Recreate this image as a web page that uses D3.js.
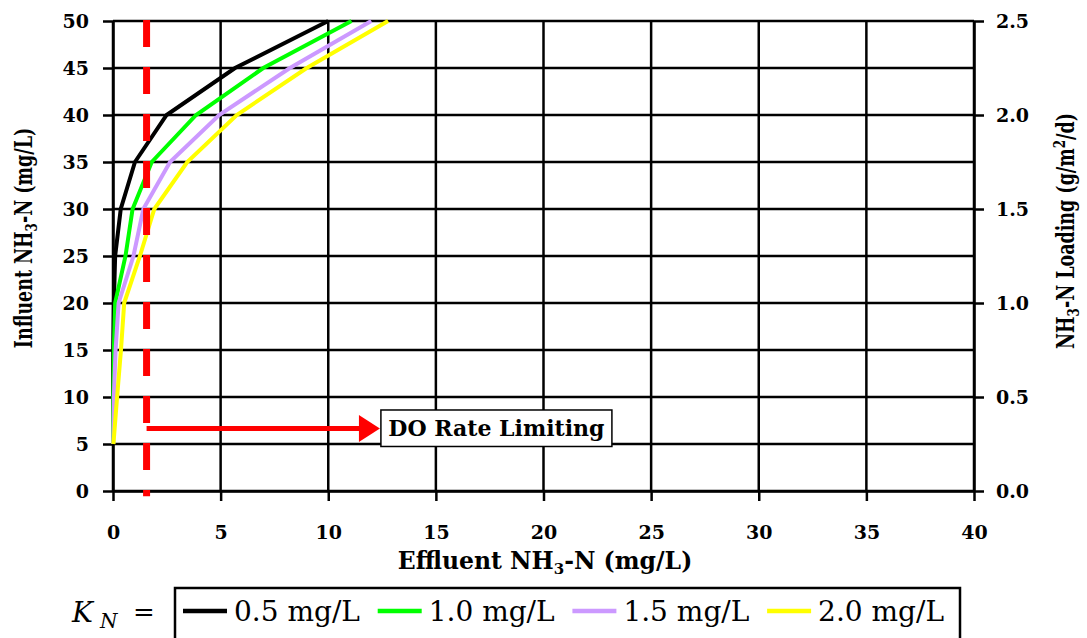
<!DOCTYPE html>
<html><head><meta charset="utf-8">
<script src="https://cdn.jsdelivr.net/npm/d3@7"></script>
<style>body{margin:0;background:#fff}svg{display:block}</style>
</head><body><svg id="c" width="1087" height="638"></svg>
<script>
const influent = [5,10,15,20,25,30,35,40,45,50];
const kn05 = [0.0, 0.0, 0.01, 0.04, 0.10, 0.36, 1.02, 2.49, 5.67, 10.0];
const kn10 = [0.0, 0.01, 0.04, 0.10, 0.58, 0.91, 1.80, 3.86, 6.98, 11.08];
const kn15 = [0.01, 0.04, 0.12, 0.26, 0.95, 1.41, 2.65, 4.93, 8.22, 12.0];
const kn20 = [0.02, 0.19, 0.37, 0.52, 1.25, 1.92, 3.45, 5.75, 9.0, 12.78];
const seriesNames = ["0.5 mg/L","1.0 mg/L","1.5 mg/L","2.0 mg/L"];
const seriesColors = ["#000000","#00ff00","#cc99ff","#ffff00"];
const xTicks = [0,5,10,15,20,25,30,35,40];
const yTicks = [0,5,10,15,20,25,30,35,40,45,50];
const y2Ticks = [0.0,0.5,1.0,1.5,2.0,2.5];
const doLimitX = 1.56, arrowY = 6.65, arrowEndX = 12.4;
const annotationText = "DO Rate Limiting";

const series = [kn05,kn10,kn15,kn20];
const svg = d3.select("#c");
const L=113,R=974,T=21,B=491;
const x = d3.scaleLinear().domain([0,40]).range([L,R]);
const y = d3.scaleLinear().domain([0,50]).range([B,T]);
const y2 = d3.scaleLinear().domain([0,2.5]).range([B,T]);
const bold = "'DejaVu Serif', serif";

// grid
const g = svg.append("g");
g.selectAll("line.h").data(yTicks).join("line")
 .attr("x1",L).attr("x2",R).attr("y1",d=>y(d)).attr("y2",d=>y(d))
 .attr("stroke","#000").attr("stroke-width",2.5);
g.selectAll("line.v").data(xTicks).join("line")
 .attr("y1",T).attr("y2",B).attr("x1",d=>x(d)).attr("x2",d=>x(d))
 .attr("stroke","#000").attr("stroke-width",2.5);

function styleAxis(sel){
  sel.select(".domain").attr("stroke","#000").attr("stroke-width",2.5);
  sel.selectAll(".tick line").attr("stroke","#000").attr("stroke-width",2.5);
  sel.selectAll(".tick text").attr("font-family",bold).attr("font-weight","bold")
    .attr("font-size",19).attr("fill","#000");
}
const ax = svg.append("g").attr("transform",`translate(0,${B})`)
 .call(d3.axisBottom(x).tickValues(xTicks).tickSize(10).tickPadding(25).tickSizeOuter(0));
styleAxis(ax);
const ay = svg.append("g").attr("transform",`translate(${L},0)`)
 .call(d3.axisLeft(y).tickValues(yTicks).tickSize(10).tickPadding(14).tickSizeOuter(0));
styleAxis(ay);
const ay2 = svg.append("g").attr("transform",`translate(${R},0)`)
 .call(d3.axisRight(y2).tickValues(y2Ticks).tickFormat(d3.format(".1f")).tickSize(10).tickPadding(12).tickSizeOuter(0));
styleAxis(ay2);

// curves
const line = d3.line().x(d=>x(d[0])).y(d=>y(d[1]));
series.forEach((s,i)=>{
  svg.append("path").datum(s.map((v,j)=>[v,influent[j]]))
    .attr("d",line).attr("fill","none").attr("stroke",seriesColors[i])
    .attr("stroke-width",4).attr("stroke-linejoin","miter");
});

// red dashed line
svg.append("line").attr("x1",x(doLimitX)).attr("x2",x(doLimitX))
 .attr("y1",y(50)-1).attr("y2",y(-0.55))
 .attr("stroke","#ff0000").attr("stroke-width",7).attr("stroke-dasharray","27,20");

// arrow
const ax0 = x(doLimitX), ax1 = x(arrowEndX), ayp = y(arrowY);
svg.append("line").attr("x1",ax0).attr("x2",ax1-18).attr("y1",ayp).attr("y2",ayp)
 .attr("stroke","#ff0000").attr("stroke-width",5);
svg.append("path").attr("d",`M${ax1},${ayp} L${ax1-21},${ayp-13.5} L${ax1-21},${ayp+13.5} Z`).attr("fill","#ff0000");

// annotation box
svg.append("rect").attr("x",ax1+1).attr("y",ayp-18.5).attr("width",231).attr("height",36.5)
 .attr("fill","#fff").attr("stroke","#000").attr("stroke-width",1.5);
svg.append("text").attr("x",ax1+1+115.5).attr("y",ayp+8).attr("text-anchor","middle")
 .attr("font-family",bold).attr("font-weight","bold").attr("font-size",22).text(annotationText);

// axis titles
const xt = svg.append("text").attr("x",545).attr("y",569).attr("text-anchor","middle")
 .attr("font-family",bold).attr("font-weight","bold").attr("font-size",23.5);
xt.append("tspan").text("Effluent NH");
xt.append("tspan").attr("font-size",15).attr("dy",5).text("3");
xt.append("tspan").attr("dy",-5).text("-N (mg/L)");

const yt = svg.append("text").attr("transform","translate(32,238) scale(1.35,1) rotate(-90)")
 .attr("text-anchor","middle").attr("font-family",bold).attr("font-weight","bold").attr("font-size",17.5);
yt.append("tspan").text("Influent NH");
yt.append("tspan").attr("font-size",12).attr("dy",4).text("3");
yt.append("tspan").attr("dy",-4).text("-N (mg/L)");

const y2t = svg.append("text").attr("transform","translate(1074,231) scale(1.35,1) rotate(-90)")
 .attr("text-anchor","middle").attr("font-family",bold).attr("font-weight","bold").attr("font-size",17.5);
y2t.append("tspan").text("NH");
y2t.append("tspan").attr("font-size",12).attr("dy",4).text("3");
y2t.append("tspan").attr("dy",-4).text("-N Loading (g/m");
y2t.append("tspan").attr("font-size",12).attr("dy",-7).text("2");
y2t.append("tspan").attr("dy",7).text("/d)");

// legend
svg.append("text").attr("x",72).attr("y",622).attr("font-family",bold).attr("font-style","italic")
 .attr("font-size",28).text("K");
svg.append("text").attr("x",100).attr("y",628).attr("font-family",bold).attr("font-style","italic")
 .attr("font-size",20).text("N");
svg.append("text").attr("x",133).attr("y",621).attr("font-family",bold)
 .attr("font-size",26).text("=");
svg.append("rect").attr("x",175).attr("y",588).attr("width",785).attr("height",52)
 .attr("fill","#fff").attr("stroke","#000").attr("stroke-width",2.5);
const lg = svg.append("g").selectAll("g").data(seriesNames).join("g")
 .attr("transform",(d,i)=>`translate(${183+i*194.7},611)`);
lg.append("line").attr("x1",0).attr("x2",44).attr("stroke",(d,i)=>seriesColors[i]).attr("stroke-width",4.5);
lg.append("text").attr("x",51).attr("y",10).attr("font-family",bold).attr("font-size",28).text(d=>d);
</script></body></html>
